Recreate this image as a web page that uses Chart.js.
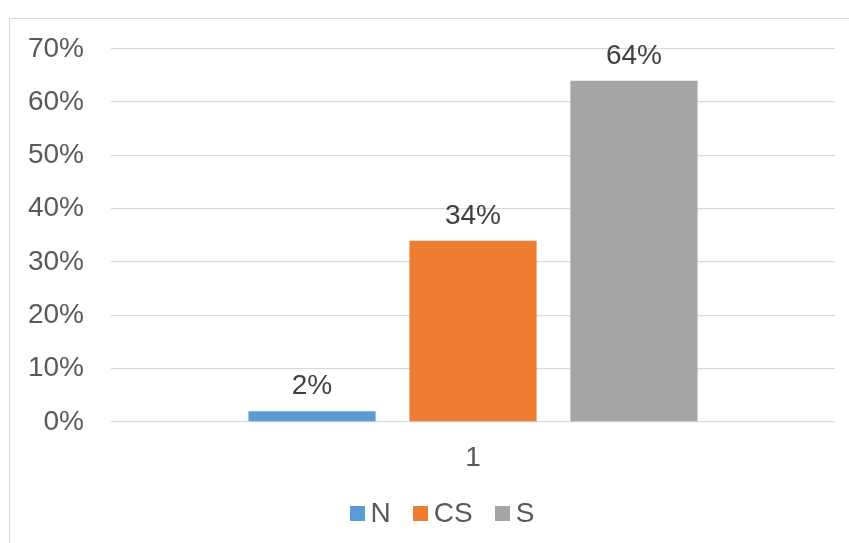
<!DOCTYPE html>
<html lang="es">
<head>
    <meta charset="UTF-8">
    <title>Grafico N / CS / S</title>
    <script src="https://cdn.jsdelivr.net/npm/chart.js"></script>
    <style>
        html, body {
            margin: 0;
            padding: 0;
            background: #ffffff;
            overflow: hidden;
        }
        .marco {
            position: absolute;
            left: 9px;
            top: 18px;
            width: 866px;
            height: 530px;
            box-sizing: border-box;
            border-left: 1px solid #d9d9d9;
            border-top: 1px solid #d9d9d9;
        }
        .lienzo {
            position: absolute;
            left: 10px;
            top: 5px;
            width: 865px;
            height: 538px;
        }
        .leyenda {
            position: absolute;
            left: 9px;
            width: 866px;
            top: 499px;
            height: 28px;
            display: flex;
            justify-content: center;
            align-items: center;
            font-family: "Liberation Sans", Arial, sans-serif;
            font-size: 28px;
            line-height: 28px;
            color: #595959;
        }
        .item {
            display: flex;
            align-items: center;
            margin: 0 11px;
        }
        .caja {
            width: 15px;
            height: 15px;
            margin-right: 6px;
        }
    </style>
</head>
<body>
    <div class="marco"></div>
    <div class="lienzo">
        <canvas id="grafico"></canvas>
    </div>
    <div class="leyenda" id="leyenda"></div>

    <script>
        // datos
        const categorias = ['1'];
        const series = ['N', 'CS', 'S'];
        const valores = [[2], [34], [64]];
        const colores = ['#5B9BD5', '#ED7D31', '#A5A5A5'];
        const ejeY = { min: 0, max: 70, paso: 10 };

        const fuente = '"Liberation Sans", Arial, sans-serif';

        // etiquetas de valor encima de cada barra
        const etiquetasValor = {
            id: 'etiquetasValor',
            afterDatasetsDraw(chart) {
                const ctx = chart.ctx;
                ctx.save();
                ctx.font = '28px ' + fuente;
                ctx.fillStyle = '#404040';
                ctx.textAlign = 'center';
                ctx.textBaseline = 'alphabetic';
                chart.data.datasets.forEach((ds, i) => {
                    const meta = chart.getDatasetMeta(i);
                    meta.data.forEach((barra, j) => {
                        ctx.fillText(ds.data[j] + '%', barra.x, barra.y - 17);
                    });
                });
                ctx.restore();
            }
        };

        var ctx = document.getElementById('grafico').getContext('2d');
        var grafico = new Chart(ctx, {
            type: 'bar',
            data: {
                labels: categorias,
                datasets: series.map((nombre, i) => ({
                    label: nombre,
                    data: valores[i],
                    backgroundColor: colores[i],
                    categoryPercentage: 0.667,
                    barPercentage: 0.79
                }))
            },
            options: {
                responsive: true,
                maintainAspectRatio: false,
                animation: false,
                layout: { padding: { left: 0, right: 40, top: 0, bottom: 54 } },
                plugins: {
                    tooltip: { enabled: false },
                    legend: { display: false }
                },
                scales: {
                    x: {
                        grid: { display: false },
                        border: { display: false },
                        ticks: {
                            color: '#595959',
                            padding: 11,
                            font: { family: fuente, size: 28 }
                        },
                        afterFit(scale) { scale.height = 67; }
                    },
                    y: {
                        min: ejeY.min,
                        max: ejeY.max,
                        border: { display: false },
                        grid: { color: '#d9d9d9', lineWidth: 1.3, drawTicks: false },
                        ticks: {
                            stepSize: ejeY.paso,
                            padding: 27,
                            color: '#595959',
                            font: { family: fuente, size: 28 },
                            callback: v => v + '%'
                        },
                        afterFit(scale) { scale.width = 101; }
                    }
                }
            },
            plugins: [etiquetasValor]
        });

        // leyenda en HTML a partir de las series
        const leyenda = document.getElementById('leyenda');
        series.forEach((nombre, i) => {
            const item = document.createElement('div');
            item.className = 'item';
            const caja = document.createElement('span');
            caja.className = 'caja';
            caja.style.background = colores[i];
            const texto = document.createElement('span');
            texto.textContent = nombre;
            item.appendChild(caja);
            item.appendChild(texto);
            leyenda.appendChild(item);
        });
    </script>
</body>
</html>
